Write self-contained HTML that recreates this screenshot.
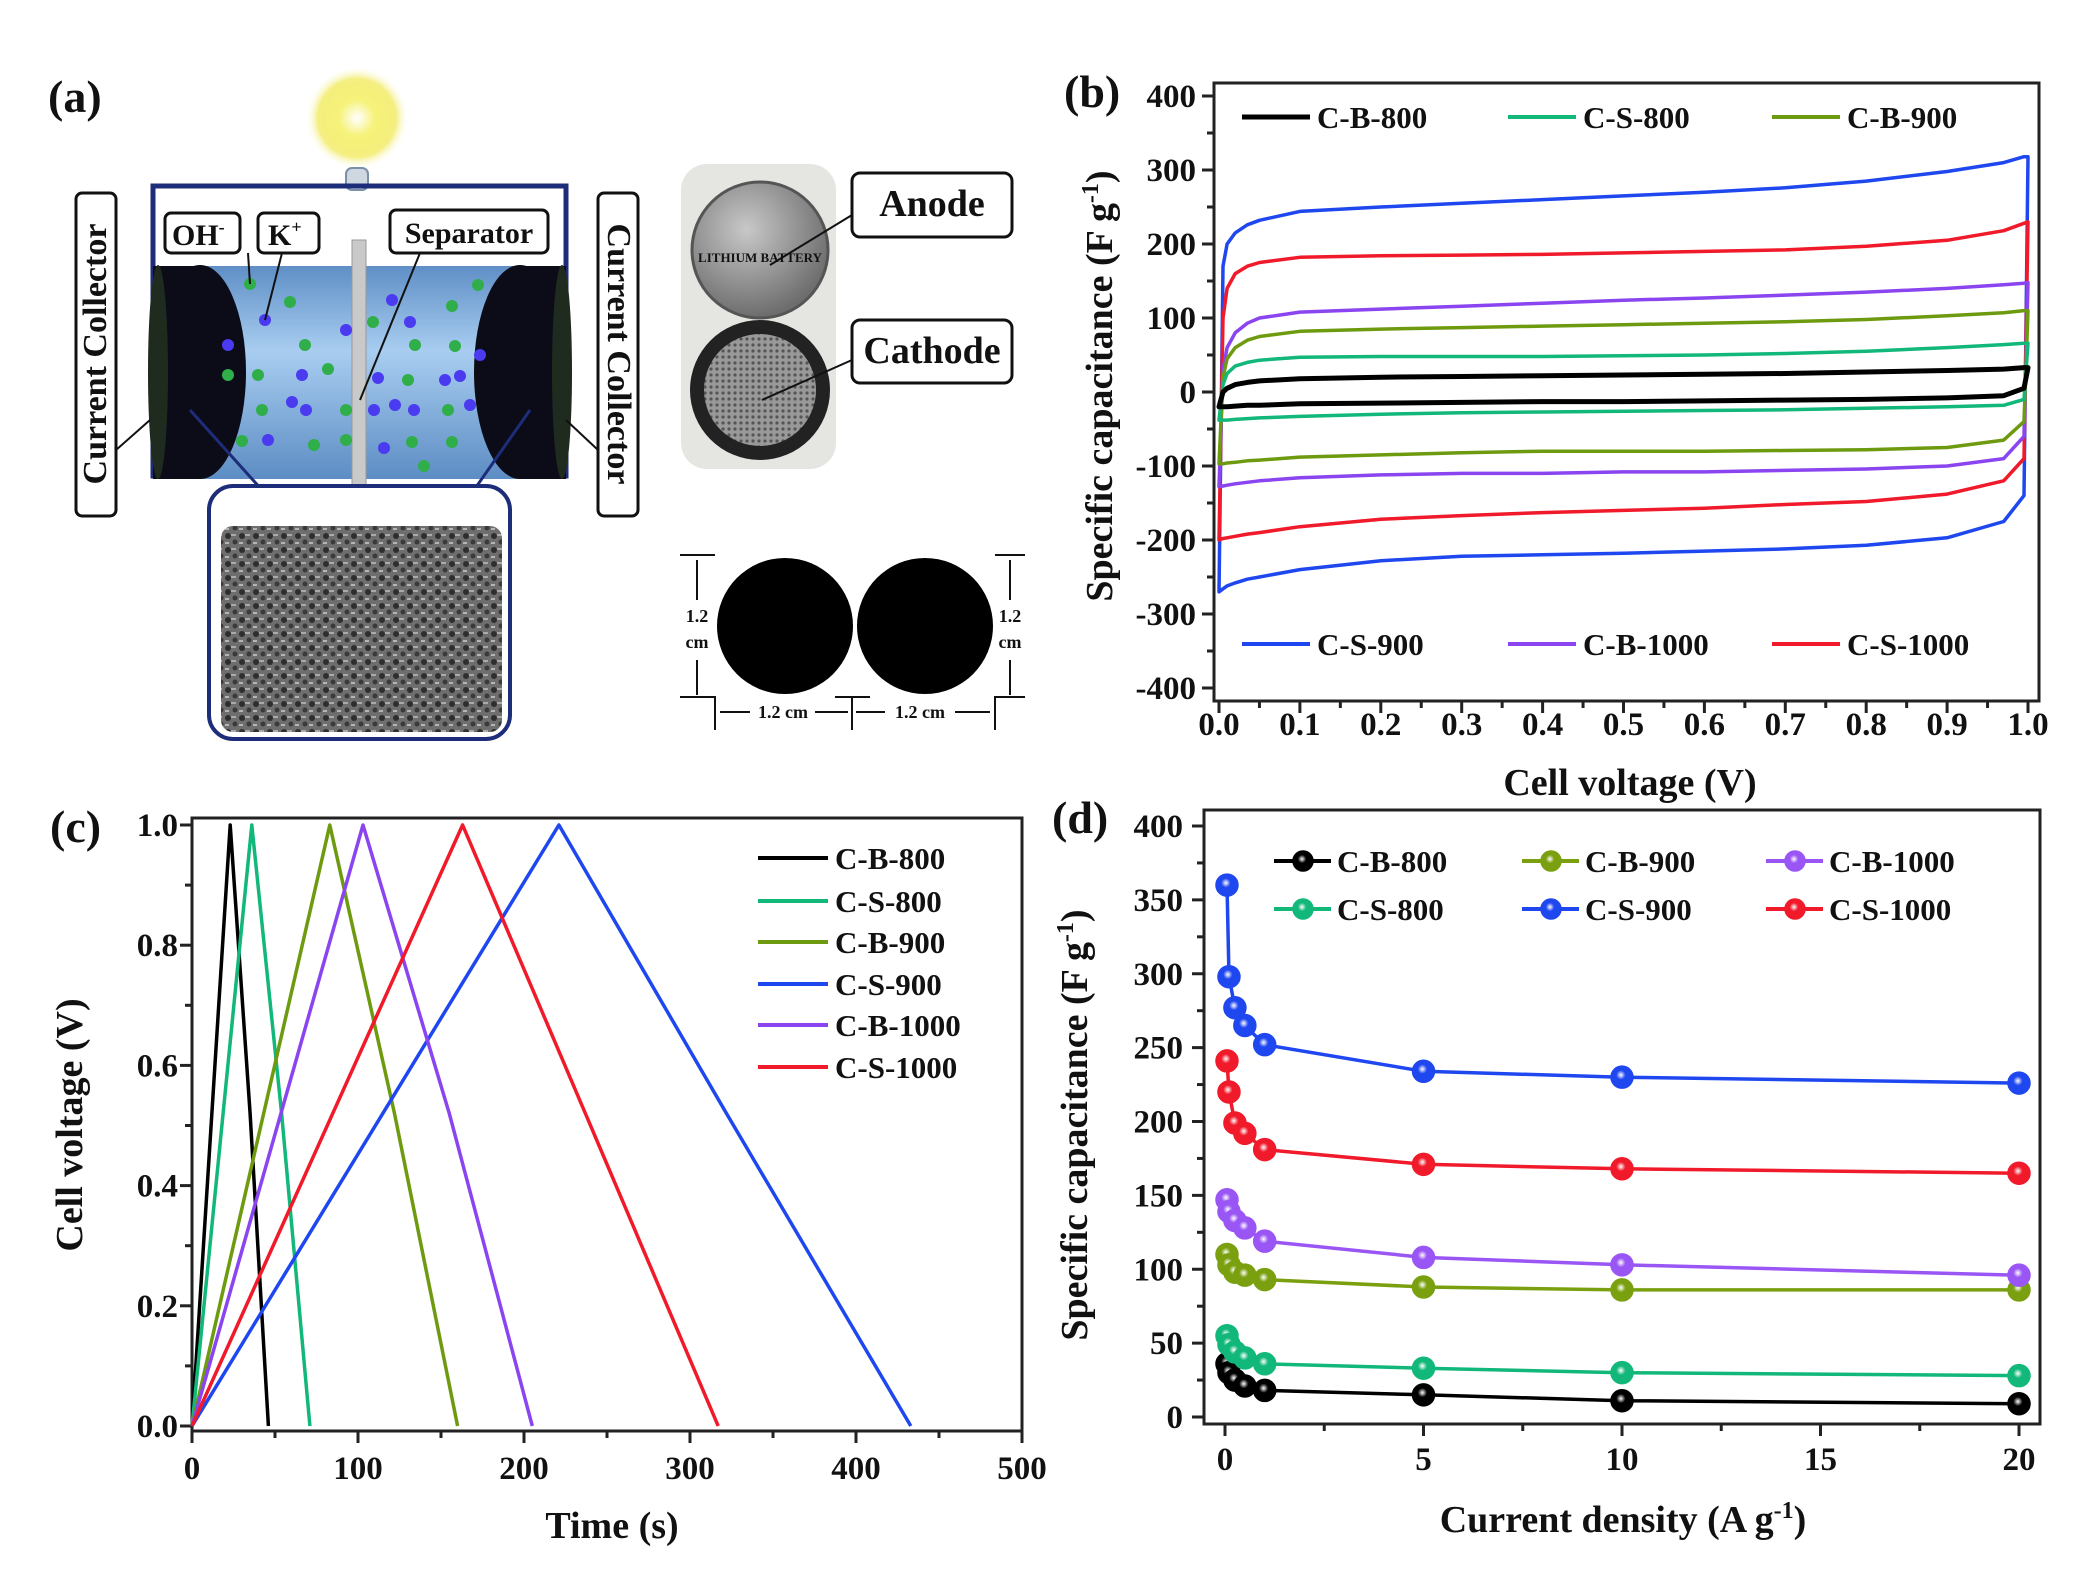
<!DOCTYPE html>
<html><head><meta charset="utf-8">
<style>
html,body{margin:0;padding:0;background:#fff;}
svg{display:block;}
text{font-family:"Liberation Serif",serif;font-weight:bold;fill:#111;}
</style></head>
<body>
<svg id="fig" width="2076" height="1571" viewBox="0 0 2076 1571" xmlns="http://www.w3.org/2000/svg">
<defs>
<radialGradient id="glow" cx="50%" cy="50%" r="50%">
<stop offset="0%" stop-color="#ffffff"/><stop offset="35%" stop-color="#f6f27a"/><stop offset="75%" stop-color="#efe84a" stop-opacity="0.7"/><stop offset="100%" stop-color="#fff" stop-opacity="0"/>
</radialGradient>
<linearGradient id="cyl" x1="0" y1="0" x2="0" y2="1">
<stop offset="0%" stop-color="#5f8fc6"/><stop offset="40%" stop-color="#a8cdf0"/><stop offset="100%" stop-color="#5d8dc4"/>
</linearGradient>
<pattern id="sem" width="14" height="14" patternUnits="userSpaceOnUse">
<rect width="14" height="14" fill="#6e6e6e"/><circle cx="4" cy="4" r="3" fill="#2e2e2e"/><circle cx="11" cy="10" r="2.5" fill="#3a3a3a"/><rect x="7" y="2" width="5" height="2" fill="#aaa"/><rect x="1" y="10" width="4" height="2" fill="#b5b5b5"/>
</pattern>
<pattern id="mesh" width="6" height="6" patternUnits="userSpaceOnUse"><rect width="6" height="6" fill="#999"/><circle cx="3" cy="3" r="1.6" fill="#555"/></pattern>
<radialGradient id="coinA" cx="40%" cy="35%" r="65%"><stop offset="0%" stop-color="#c8c8c8"/><stop offset="100%" stop-color="#6d6d6d"/></radialGradient>
</defs>

<g>
<text x="48" y="112" font-size="46">(a)</text>
<circle cx="357" cy="118" r="52" fill="url(#glow)"/>
<rect x="346" y="168" width="22" height="22" rx="6" fill="#cfd7e0" stroke="#7b8fa6" stroke-width="2"/>
<rect x="153" y="186" width="413" height="290" fill="none" stroke="#1e2d7a" stroke-width="5"/>
<rect x="180" y="266" width="360" height="213" fill="url(#cyl)"/>
<ellipse cx="200" cy="372" rx="46" ry="107" fill="#0c0c18"/>
<rect x="153" y="266" width="47" height="213" fill="#0c0c18"/>
<ellipse cx="158" cy="372" rx="10" ry="107" fill="#1f2b1f"/>
<ellipse cx="520" cy="372" rx="46" ry="107" fill="#0c0c18"/>
<rect x="520" y="266" width="46" height="213" fill="#0c0c18"/>
<ellipse cx="562" cy="372" rx="10" ry="107" fill="#1f2b1f"/>
<rect x="352" y="240" width="14" height="270" fill="#c9c9c9" stroke="#999"/>
<g>
<circle cx="250" cy="284" r="6" fill="#2fae4a"/><circle cx="290" cy="302" r="6" fill="#2fae4a"/><circle cx="265" cy="320" r="6" fill="#4a3af0"/><circle cx="228" cy="345" r="6" fill="#4a3af0"/><circle cx="305" cy="345" r="6" fill="#2fae4a"/><circle cx="228" cy="375" r="6" fill="#2fae4a"/><circle cx="258" cy="375" r="6" fill="#2fae4a"/><circle cx="302" cy="375" r="6" fill="#4a3af0"/><circle cx="328" cy="369" r="6" fill="#2fae4a"/><circle cx="346" cy="330" r="6" fill="#4a3af0"/><circle cx="373" cy="322" r="6" fill="#2fae4a"/><circle cx="392" cy="300" r="6" fill="#4a3af0"/><circle cx="410" cy="322" r="6" fill="#4a3af0"/><circle cx="415" cy="345" r="6" fill="#2fae4a"/><circle cx="452" cy="306" r="6" fill="#2fae4a"/><circle cx="455" cy="346" r="6" fill="#2fae4a"/><circle cx="378" cy="378" r="6" fill="#4a3af0"/><circle cx="408" cy="380" r="6" fill="#2fae4a"/><circle cx="445" cy="380" r="6" fill="#4a3af0"/><circle cx="460" cy="376" r="6" fill="#4a3af0"/><circle cx="262" cy="410" r="6" fill="#2fae4a"/><circle cx="292" cy="402" r="6" fill="#4a3af0"/><circle cx="306" cy="410" r="6" fill="#4a3af0"/><circle cx="346" cy="410" r="6" fill="#2fae4a"/><circle cx="374" cy="410" r="6" fill="#4a3af0"/><circle cx="395" cy="405" r="6" fill="#4a3af0"/><circle cx="414" cy="410" r="6" fill="#4a3af0"/><circle cx="448" cy="410" r="6" fill="#2fae4a"/><circle cx="470" cy="405" r="6" fill="#4a3af0"/><circle cx="268" cy="440" r="6" fill="#4a3af0"/><circle cx="314" cy="445" r="6" fill="#2fae4a"/><circle cx="346" cy="440" r="6" fill="#2fae4a"/><circle cx="384" cy="448" r="6" fill="#4a3af0"/><circle cx="412" cy="442" r="6" fill="#2fae4a"/><circle cx="452" cy="442" r="6" fill="#2fae4a"/><circle cx="424" cy="466" r="6" fill="#2fae4a"/><circle cx="242" cy="441" r="6" fill="#2fae4a"/><circle cx="478" cy="285" r="6" fill="#2fae4a"/><circle cx="480" cy="355" r="6" fill="#4a3af0"/>
</g>
<polyline points="190,410 280,510 460,510 530,410" fill="none" stroke="#1e2d7a" stroke-width="3"/>
<rect x="209" y="486" width="301" height="253" rx="24" fill="#fff" stroke="#1e2d7a" stroke-width="4"/>
<rect x="221" y="526" width="281" height="206" rx="12" fill="url(#sem)"/>
<rect x="76" y="193" width="40" height="323" rx="6" fill="#fff" stroke="#111" stroke-width="3"/>
<text transform="translate(106,354) rotate(-90)" text-anchor="middle" font-size="34">Current Collector</text>
<rect x="598" y="193" width="40" height="323" rx="6" fill="#fff" stroke="#111" stroke-width="3"/>
<text transform="translate(608,354) rotate(90)" text-anchor="middle" font-size="34">Current Collector</text>
<polyline points="116,450 150,420" fill="none" stroke="#111" stroke-width="2"/>
<polyline points="598,450 566,420" fill="none" stroke="#111" stroke-width="2"/>
<rect x="165" y="213" width="75" height="40" rx="6" fill="#fff" stroke="#111" stroke-width="3"/>
<text x="172" y="245" font-size="30">OH<tspan font-size="18" dy="-12">-</tspan></text>
<rect x="258" y="213" width="61" height="40" rx="6" fill="#fff" stroke="#111" stroke-width="3"/>
<text x="268" y="245" font-size="30">K<tspan font-size="18" dy="-12">+</tspan></text>
<rect x="390" y="210" width="158" height="43" rx="6" fill="#fff" stroke="#111" stroke-width="3"/>
<text x="469" y="243" text-anchor="middle" font-size="30">Separator</text>
<line x1="420" y1="253" x2="360" y2="400" stroke="#111" stroke-width="2"/>
<line x1="248" y1="253" x2="250" y2="284" stroke="#111" stroke-width="2"/>
<line x1="282" y1="253" x2="265" y2="320" stroke="#111" stroke-width="2"/>
<rect x="681" y="164" width="155" height="305" rx="26" fill="#e5e6e2"/>
<circle cx="760" cy="250" r="68" fill="url(#coinA)" stroke="#555" stroke-width="3"/>
<text x="760" y="262" text-anchor="middle" font-size="13" fill="#333">LITHIUM BATTERY</text>
<circle cx="760" cy="390" r="70" fill="#222"/>
<circle cx="760" cy="390" r="56" fill="url(#mesh)"/>
<rect x="852" y="173" width="160" height="64" rx="8" fill="#fff" stroke="#111" stroke-width="3"/>
<text x="932" y="216" text-anchor="middle" font-size="38">Anode</text>
<line x1="852" y1="215" x2="770" y2="265" stroke="#111" stroke-width="2"/>
<rect x="852" y="320" width="160" height="63" rx="8" fill="#fff" stroke="#111" stroke-width="3"/>
<text x="932" y="363" text-anchor="middle" font-size="38">Cathode</text>
<line x1="852" y1="360" x2="762" y2="400" stroke="#111" stroke-width="2"/>
<circle cx="785" cy="626" r="68" fill="#000"/>
<circle cx="925" cy="626" r="68" fill="#000"/>
<g stroke="#111" stroke-width="2" fill="none">
<line x1="680" y1="555" x2="715" y2="555"/><line x1="680" y1="697" x2="715" y2="697"/><line x1="697" y1="560" x2="697" y2="600"/><line x1="697" y1="660" x2="697" y2="695"/>
<line x1="995" y1="555" x2="1025" y2="555"/><line x1="995" y1="697" x2="1025" y2="697"/><line x1="1010" y1="560" x2="1010" y2="600"/><line x1="1010" y1="660" x2="1010" y2="695"/>
<polyline points="680,697 715,697 715,730"/><polyline points="835,697 870,697"/><line x1="852" y1="697" x2="852" y2="730"/><polyline points="995,730 995,697 1025,697"/>
<line x1="720" y1="712" x2="750" y2="712"/><line x1="815" y1="712" x2="848" y2="712"/><line x1="856" y1="712" x2="885" y2="712"/><line x1="955" y1="712" x2="990" y2="712"/>
</g>
<text x="697" y="622" text-anchor="middle" font-size="18">1.2</text><text x="697" y="648" text-anchor="middle" font-size="18">cm</text>
<text x="1010" y="622" text-anchor="middle" font-size="18">1.2</text><text x="1010" y="648" text-anchor="middle" font-size="18">cm</text>
<text x="783" y="718" text-anchor="middle" font-size="18">1.2 cm</text><text x="920" y="718" text-anchor="middle" font-size="18">1.2 cm</text>
</g>

<g id="panelB"></g>
<g id="panelC"></g>
<g id="panelD"></g>
</svg>

<script>
// ---------- Panel B data (CV curves) ----------
const cvNames = ["C-B-800","C-S-800","C-B-900","C-S-900","C-B-1000","C-S-1000"];
const cvColors = ["#000000","#12b77a","#6e9a10","#1f47f0","#8a45f0","#f01a2a"];
const cvVolts = [0,0.005,0.01,0.02,0.035,0.05,0.1,0.2,0.3,0.4,0.5,0.6,0.7,0.8,0.9,0.97,0.995,1.0];
const cvUpperBB800 = [-20,0,5,10,13,15,18,20,21,22,23,24,25,27,29,31,33,33];
const cvLowerBB800 = [-20,-20,-20,-19,-18,-18,-16,-15,-14,-13,-13,-12,-11,-10,-8,-5,5,33];
const cvUpperCS800 = [-38,10,25,35,40,43,47,48,48,48,49,50,52,55,60,64,66,66];
const cvLowerCS800 = [-38,-38,-38,-37,-36,-35,-33,-30,-28,-27,-26,-25,-24,-22,-20,-18,-10,66];
const cvUpperCB900 = [-97,20,45,60,70,75,82,85,87,89,91,93,95,98,103,107,110,110];
const cvLowerCB900 = [-97,-97,-96,-95,-93,-92,-88,-85,-82,-80,-80,-80,-79,-78,-75,-65,-40,110];
const cvUpperCS900 = [-270,170,200,215,226,232,244,250,255,260,265,270,276,285,298,310,318,318];
const cvLowerCS900 = [-270,-266,-262,-258,-253,-250,-240,-228,-222,-220,-218,-215,-212,-207,-197,-175,-140,318];
const cvUpperCB1000 = [-128,30,60,80,93,100,108,112,116,120,124,127,131,135,140,145,147,148];
const cvLowerCB1000 = [-128,-127,-126,-124,-122,-120,-116,-112,-110,-110,-108,-108,-106,-104,-100,-90,-60,148];
const cvUpperCS1000 = [-200,100,140,160,170,175,182,184,185,186,188,190,192,197,205,218,228,230];
const cvLowerCS1000 = [-200,-198,-197,-195,-192,-190,-182,-172,-167,-163,-160,-157,-152,-148,-138,-120,-90,230];
const cvYTicks = [400,300,200,100,0,-100,-200,-300,-400];
const cvXTicks = ["0.0","0.1","0.2","0.3","0.4","0.5","0.6","0.7","0.8","0.9","1.0"];

// ---------- Panel C data (GCD) ----------
const gcdNames = ["C-B-800","C-S-800","C-B-900","C-S-900","C-B-1000","C-S-1000"];
const gcdColors = ["#000000","#12b77a","#6e9a10","#1f47f0","#8a45f0","#f01a2a"];
const gcdPeakTime = [23,36,83,221,103,163];
const gcdEndTime = [46,71,160,433,205,317];
const gcdMidTime = [35,54,122,322,155,237];
const gcdYTicks = ["0.0","0.2","0.4","0.6","0.8","1.0"];
const gcdXTicks = ["0","100","200","300","400","500"];

// ---------- Panel D data (rate capability) ----------
const rateNames = ["C-B-800","C-B-900","C-B-1000","C-S-800","C-S-900","C-S-1000"];
const rateColors = ["#000000","#7aa010","#9a55f5","#12b77a","#1f47f0","#f01a2a"];
const rateCurrent = [0.05,0.1,0.25,0.5,1,5,10,20];
const rateCB800 = [36,30,25,21,18,15,11,9];
const rateCB900 = [110,103,98,96,93,88,86,86];
const rateCB1000 = [147,139,133,128,119,108,103,96];
const rateCS800 = [55,49,44,40,36,33,30,28];
const rateCS900 = [360,298,277,265,252,234,230,226];
const rateCS1000 = [241,220,199,192,181,171,168,165];
const rateYTicks = [0,50,100,150,200,250,300,350,400];
const rateXTicks = [0,5,10,15,20];

const NS = "http://www.w3.org/2000/svg";
function mk(parent, tag, attrs, txt){
  const e = document.createElementNS(NS, tag);
  for (const k in attrs) e.setAttribute(k, attrs[k]);
  if (txt !== undefined) e.textContent = txt;
  parent.appendChild(e);
  return e;
}
function lin(d0,d1,r0,r1){ return v => r0 + (v-d0)/(d1-d0)*(r1-r0); }

(function(){
  const g = document.getElementById("panelB");
  const X = lin(0,1,1219,2028), Y = lin(-400,400,688,96);
  const L=1214,R=2039,T=83,B=701;
  const frame = mk(g,"rect",{x:L,y:T,width:R-L,height:B-T,fill:"none",stroke:"#222","stroke-width":3});
  
  
  for (let v=-400; v<=400; v+=50){
    const major = v%100===0;
    mk(g,"line",{x1:L,x2:L-(major?12:7),y1:Y(v),y2:Y(v),stroke:"#222","stroke-width":3});
  }
  cvYTicks.forEach(v=>{
    const t = mk(g,"text",{x:1196,y:Y(v)+11,"text-anchor":"end","font-size":33},String(v));
    
    
  });
  for (let i=0;i<=20;i++){
    const v=i*0.05, major=i%2===0;
    mk(g,"line",{x1:X(v),x2:X(v),y1:B,y2:B+(major?12:7),stroke:"#222","stroke-width":3});
  }
  cvXTicks.forEach(s=>{
    const t = mk(g,"text",{x:X(parseFloat(s)),y:735,"text-anchor":"middle","font-size":33},s);
    
    
  });
  const xt = mk(g,"text",{x:1630,y:795,"text-anchor":"middle","font-size":38},"Cell voltage (V)");
  
  
  const yt = mk(g,"text",{transform:"translate(1112,386) rotate(-90)","text-anchor":"middle","font-size":38});
  yt.innerHTML = 'Specific capacitance (F g<tspan font-size="24" dy="-14">-1</tspan><tspan dy="14">)</tspan>';
  
  
  const pl = mk(g,"text",{x:1064,y:107,"font-size":46},"(b)");
  
  

  const uppers=[cvUpperBB800,cvUpperCS800,cvUpperCB900,cvUpperCS900,cvUpperCB1000,cvUpperCS1000];
  const lowers=[cvLowerBB800,cvLowerCS800,cvLowerCB900,cvLowerCS900,cvLowerCB1000,cvLowerCS1000];
  const order=[3,5,4,2,1,0];
  order.forEach(i=>{
    let d="";
    cvVolts.forEach((v,k)=>{ d += (k?"L":"M")+X(v).toFixed(1)+","+Y(uppers[i][k]).toFixed(1); });
    for (let k=cvVolts.length-1;k>=0;k--) d += "L"+X(cvVolts[k]).toFixed(1)+","+Y(lowers[i][k]).toFixed(1);
    d+="Z";
    const p = mk(g,"path",{d:d,fill:"none",stroke:cvColors[i],"stroke-width":i===0?5:3.5,"stroke-linejoin":"round"});
    
    
  });
  const legPos=[[1242,117],[1508,117],[1772,117],[1242,644],[1508,644],[1772,644]];
  cvNames.forEach((n,i)=>{
    const [lx,ly]=legPos[i];
    const le = mk(g,"g",{});
    
    
    mk(le,"line",{x1:lx,x2:lx+68,y1:ly,y2:ly,stroke:cvColors[i],"stroke-width":i===0?5:4});
    mk(le,"text",{x:lx+75,y:ly+11,"font-size":31},n);
  });
})();

(function(){
  const g = document.getElementById("panelC");
  const X = lin(0,500,192,1022), Y = lin(0,1,1426,825);
  const L=192,R=1022,T=818,B=1431;
  const frame = mk(g,"rect",{x:L,y:T,width:R-L,height:B-T,fill:"none",stroke:"#222","stroke-width":3});
  
  
  for (let i=0;i<=10;i++){
    const v=i*0.1, major=i%2===0;
    mk(g,"line",{x1:L,x2:L-(major?12:7),y1:Y(v),y2:Y(v),stroke:"#222","stroke-width":3});
  }
  gcdYTicks.forEach(s=>{
    const t = mk(g,"text",{x:178,y:Y(parseFloat(s))+11,"text-anchor":"end","font-size":33},s);
    
    
  });
  for (let i=0;i<=10;i++){
    const v=i*50, major=i%2===0;
    mk(g,"line",{x1:X(v),x2:X(v),y1:B,y2:B+(major?12:7),stroke:"#222","stroke-width":3});
  }
  gcdXTicks.forEach(s=>{
    const t = mk(g,"text",{x:X(parseFloat(s)),y:1479,"text-anchor":"middle","font-size":33},s);
    
    
  });
  const xt = mk(g,"text",{x:612,y:1538,"text-anchor":"middle","font-size":38},"Time (s)");
  
  
  const yt = mk(g,"text",{transform:"translate(82,1125) rotate(-90)","text-anchor":"middle","font-size":38},"Cell voltage (V)");
  
  
  const pl = mk(g,"text",{x:50,y:842,"font-size":46},"(c)");
  
  
  gcdNames.forEach((n,i)=>{
    const pts=[[0,0],[gcdPeakTime[i],1],[gcdMidTime[i],0.52],[gcdEndTime[i],0]];
    const p = mk(g,"polyline",{points:pts.map(q=>X(q[0]).toFixed(1)+","+Y(q[1]).toFixed(1)).join(" "),fill:"none",stroke:gcdColors[i],"stroke-width":3.5,"stroke-linejoin":"round"});
    
    
  });
  const rows=[858,901,942,984,1025,1067];
  gcdNames.forEach((n,i)=>{
    const le = mk(g,"g",{});
    
    
    mk(le,"line",{x1:758,x2:828,y1:rows[i],y2:rows[i],stroke:gcdColors[i],"stroke-width":4});
    mk(le,"text",{x:835,y:rows[i]+11,"font-size":31},n);
  });
})();

(function(){
  const g = document.getElementById("panelD");
  const X = lin(0,20,1225,2019), Y = lin(0,400,1417,826);
  const L=1204,R=2040,T=810,B=1424;
  const frame = mk(g,"rect",{x:L,y:T,width:R-L,height:B-T,fill:"none",stroke:"#222","stroke-width":3});
  
  
  for (let v=0; v<=400; v+=25){
    const major=v%50===0;
    mk(g,"line",{x1:L,x2:L-(major?12:7),y1:Y(v),y2:Y(v),stroke:"#222","stroke-width":3});
  }
  rateYTicks.forEach(v=>{
    const t = mk(g,"text",{x:1183,y:Y(v)+11,"text-anchor":"end","font-size":33},String(v));
    
    
  });
  for (let i=0;i<=8;i++){
    const v=i*2.5, major=i%2===0;
    mk(g,"line",{x1:X(v),x2:X(v),y1:B,y2:B+(major?12:7),stroke:"#222","stroke-width":3});
  }
  rateXTicks.forEach(v=>{
    const t = mk(g,"text",{x:X(v),y:1470,"text-anchor":"middle","font-size":33},String(v));
    
    
  });
  const xt = mk(g,"text",{x:1623,y:1532,"text-anchor":"middle","font-size":38});
  xt.innerHTML='Current density (A g<tspan font-size="24" dy="-14">-1</tspan><tspan dy="14">)</tspan>';
  
  
  const yt = mk(g,"text",{transform:"translate(1087,1125) rotate(-90)","text-anchor":"middle","font-size":38});
  yt.innerHTML='Specific capacitance (F g<tspan font-size="24" dy="-14">-1</tspan><tspan dy="14">)</tspan>';
  
  
  const pl = mk(g,"text",{x:1052,y:833,"font-size":46},"(d)");
  
  

  const defs = document.querySelector("defs");
  rateColors.forEach((c,i)=>{
    const rg = mk(defs,"radialGradient",{id:"mk"+i,cx:"45%",cy:"40%",r:"60%"});
    mk(rg,"stop",{offset:"0%","stop-color":"#ffffff"});
    mk(rg,"stop",{offset:"35%","stop-color":c});
    mk(rg,"stop",{offset:"100%","stop-color":c});
  });
  const series=[rateCB800,rateCB900,rateCB1000,rateCS800,rateCS900,rateCS1000];
  series.forEach((s,i)=>{
    const sg = mk(g,"g",{});
    
    
    mk(sg,"polyline",{points:s.map((v,k)=>X(rateCurrent[k]).toFixed(1)+","+Y(v).toFixed(1)).join(" "),fill:"none",stroke:rateColors[i],"stroke-width":3.5});
    s.forEach((v,k)=>{
      const c = mk(sg,"circle",{cx:X(rateCurrent[k]),cy:Y(v),r:11,fill:"url(#mk"+i+")",stroke:rateColors[i],"stroke-width":1.5});
      
      
    });
  });
  const legPos=[[1274,861],[1522,861],[1766,861],[1274,909],[1522,909],[1766,909]];
  rateNames.forEach((n,i)=>{
    const [lx,ly]=legPos[i];
    const le = mk(g,"g",{});
    
    
    mk(le,"line",{x1:lx,x2:lx+57,y1:ly,y2:ly,stroke:rateColors[i],"stroke-width":4});
    mk(le,"circle",{cx:lx+29,cy:ly,r:10,fill:"url(#mk"+i+")",stroke:rateColors[i],"stroke-width":1.5});
    mk(le,"text",{x:lx+63,y:ly+11,"font-size":31},n);
  });
})();
</script>
</body></html>
